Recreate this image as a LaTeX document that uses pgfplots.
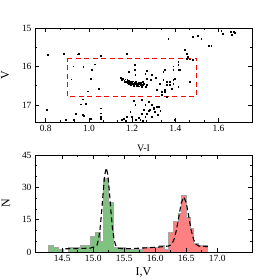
\documentclass[border=0pt]{standalone}
\usepackage{fontspec}
\setmainfont{Liberation Serif}
\usepackage{pgfplots}
\pgfplotsset{compat=1.18}
\definecolor{hgreen}{RGB}{128,194,128}
\definecolor{hred}{RGB}{255,128,128}
\pgfplotsset{mystyle/.style={
  scale only axis, anchor=south west,
  tick align=inside, major tick length=4bp, minor tick length=2bp,
  every tick/.style={black, line width=0.6pt},
  axis line style={line width=0.8pt},
  /pgf/number format/assume math mode=true,
  tick label style={font=\fontsize{9.5}{10}\selectfont},
  label style={font=\fontsize{12}{12}\selectfont},
}}
\begin{document}
\begin{tikzpicture}
\useasboundingbox (0bp,0bp) rectangle (280bp,280bp);
\begin{axis}[mystyle, at={(35bp,158bp)}, width=217bp, height=94bp,
  xmin=0.75, xmax=1.755, ymin=15, ymax=17.44, y dir=reverse,
  xtick={0.8,1.0,1.2,1.4,1.6}, minor x tick num=2,
  ytick={15,16,17}, minor y tick num=1,
  xticklabel style={/pgf/number format/.cd, fixed, fixed zerofill, precision=1},
  xlabel={V-I}, ylabel={V},
  xlabel style={at={(axis description cs:0.5,-0.28)}, anchor=center, font=\fontsize{10}{10}\selectfont},
  ylabel style={at={(axis description cs:-0.138,0.5)}, anchor=center},
  clip=true]
\addplot[only marks, mark=square*, mark size=0.42pt, black] coordinates {
(0.81,15.70)(0.884,15.67)(0.946,15.68)(0.952,15.66)(1.055,15.71)(1.175,15.67)(1.367,15.28)(1.48,15.23)(1.505,15.20)(1.52,15.27)(1.555,15.47)(1.566,15.47)(1.612,15.08)(1.618,15.14)(1.655,15.10)(1.670,15.09)(1.675,15.12)(1.661,15.17)
(1.444,15.57)(1.451,15.66)(1.459,15.74)(1.467,15.81)(1.451,15.79)(1.48,15.82)(1.413,15.87)(1.413,16.09)(1.467,16.39)(1.413,16.52)(1.39,16.35)
(0.927,15.99)(0.973,16.0)(1.027,15.94)(1.011,16.09)(0.918,16.33)(1.007,16.32)(0.994,16.64)(1.045,16.58)
(1.21,15.95)(1.214,16.22)(1.268,16.11)(1.183,16.13)(1.21,16.09)(1.26,16.18)(1.268,16.31)(1.29,16.22)(1.344,16.13)(1.344,16.35)(1.329,16.44)(1.359,16.39)(1.375,16.48)(1.398,16.31)(1.39,16.09)(1.382,16.57)(1.352,16.61)(1.337,16.65)(1.359,16.78)(1.31,16.30)(1.287,16.35)
(1.352,16.08)(1.39,15.99)(1.413,15.96)(1.375,16.39)(1.39,16.44)(1.344,16.35)(1.359,16.48)(1.314,16.61)(1.337,16.74)(1.352,16.65)(1.421,16.08)
(1.145,16.30)(1.152,16.34)(1.158,16.31)(1.163,16.37)(1.168,16.33)(1.172,16.40)(1.177,16.35)(1.181,16.42)(1.185,16.37)(1.189,16.44)(1.192,16.39)(1.195,16.47)(1.198,16.41)(1.201,16.44)(1.204,16.38)(1.207,16.49)(1.210,16.42)(1.213,16.46)(1.216,16.40)(1.219,16.50)(1.222,16.44)(1.225,16.47)(1.228,16.42)(1.231,16.51)(1.234,16.45)(1.238,16.48)(1.242,16.43)(1.246,16.52)(1.250,16.47)(1.255,16.44)(1.262,16.53)(1.268,16.48)(1.200,16.46)(1.214,16.43)(1.195,16.43)(1.230,16.46)(1.178,16.38)(1.240,16.46)(1.166,16.39)(1.250,16.40)(1.205,16.45)(1.222,16.48)(1.236,16.42)(1.190,16.41)(1.208,16.45)(1.218,16.45)(1.226,16.50)(1.184,16.45)(1.243,16.49)
(1.206,16.89)(1.245,16.87)(1.214,17.0)(1.26,17.0)(1.275,16.91)(1.29,17.0)(1.298,17.06)(1.312,17.05)(1.322,17.05)(1.306,17.17)(1.268,17.22)(1.245,17.22)(1.191,17.17)(1.198,17.3)(1.176,17.3)(1.20,17.39)(1.218,17.39)(1.237,17.39)(1.16,17.35)(1.29,17.3)(1.398,17.39)(1.252,17.11)(1.283,17.12)(1.30,17.10)(1.275,17.14)(1.33,17.15)(1.23,17.33)(1.26,17.30)(1.32,17.25)(1.15,17.38)(1.17,17.40)(1.25,17.41)
(0.971,16.85)(0.961,16.98)(0.984,16.96)(1.053,17.08)(1.053,17.21)(0.938,17.23)(0.969,17.26)(0.975,17.27)(1.007,17.36)(1.053,17.35)(0.892,17.39)(0.93,17.39)(0.805,17.13)(1.053,17.30)
};
\addplot[red, line width=1pt, dash pattern=on 5bp off 3.5bp] coordinates {(0.9,15.79)(1.5,15.79)(1.5,16.77)(0.9,16.77)(0.9,15.79)};
\end{axis}
\begin{axis}[mystyle, at={(35bp,28bp)}, width=217bp, height=97bp,
  xmin=14.06, xmax=17.56, ymin=0, ymax=45,
  xtick={14.5,15,15.5,16,16.5,17}, minor x tick num=1,
  ytick={0,15,30,45}, minor y tick num=2,
  xticklabel style={/pgf/number format/.cd, fixed, fixed zerofill, precision=1},
  xlabel={I,V}, ylabel={N},
  xlabel style={at={(axis description cs:0.5,-0.21)}, anchor=center},
  ylabel style={at={(axis description cs:-0.135,0.5)}, anchor=center},
  axis on top]
\addplot[const plot, fill=hgreen, draw=gray!70, line width=1pt] coordinates {
(14.28,3)(14.36,2)(14.44,1)(14.52,0)(14.60,2)(14.80,3)(14.95,7)(15.03,9)(15.11,5)(15.17,34)(15.25,23)(15.33,2)(15.52,1)(15.80,0)} \closedcycle;
\addplot[const plot, fill=hred, draw=gray!70, line width=1pt] coordinates {
(15.81,2)(16.06,3)(16.15,1)(16.22,9)(16.30,14)(16.37,18)(16.43,26)(16.50,16)(16.56,11)(16.62,4)(16.69,3)(16.85,0)} \closedcycle;
\addplot[black, line width=1.1pt, dash pattern=on 5bp off 3bp] coordinates {
(14.55,1.5)(14.75,1.6)(14.95,1.8)(15.03,2.5)(15.06,3.2)(15.085,5.8)(15.11,10.9)(15.135,18.7)(15.16,28)(15.185,35.9)(15.21,39)(15.235,35.9)(15.26,28)(15.285,18.7)(15.31,10.9)(15.335,5.8)(15.36,3.2)(15.41,1.7)(15.5,1.5)(15.7,1.7)(15.9,2.0)(16.1,2.4)(16.22,2.8)(16.26,3.5)(16.30,5.6)(16.34,10.0)(16.38,16.4)(16.42,22.8)(16.46,25.5)(16.50,22.8)(16.54,16.4)(16.58,10.0)(16.62,5.6)(16.66,3.5)(16.71,2.7)(16.85,2.5)};
\end{axis}
\end{tikzpicture}
\end{document}
